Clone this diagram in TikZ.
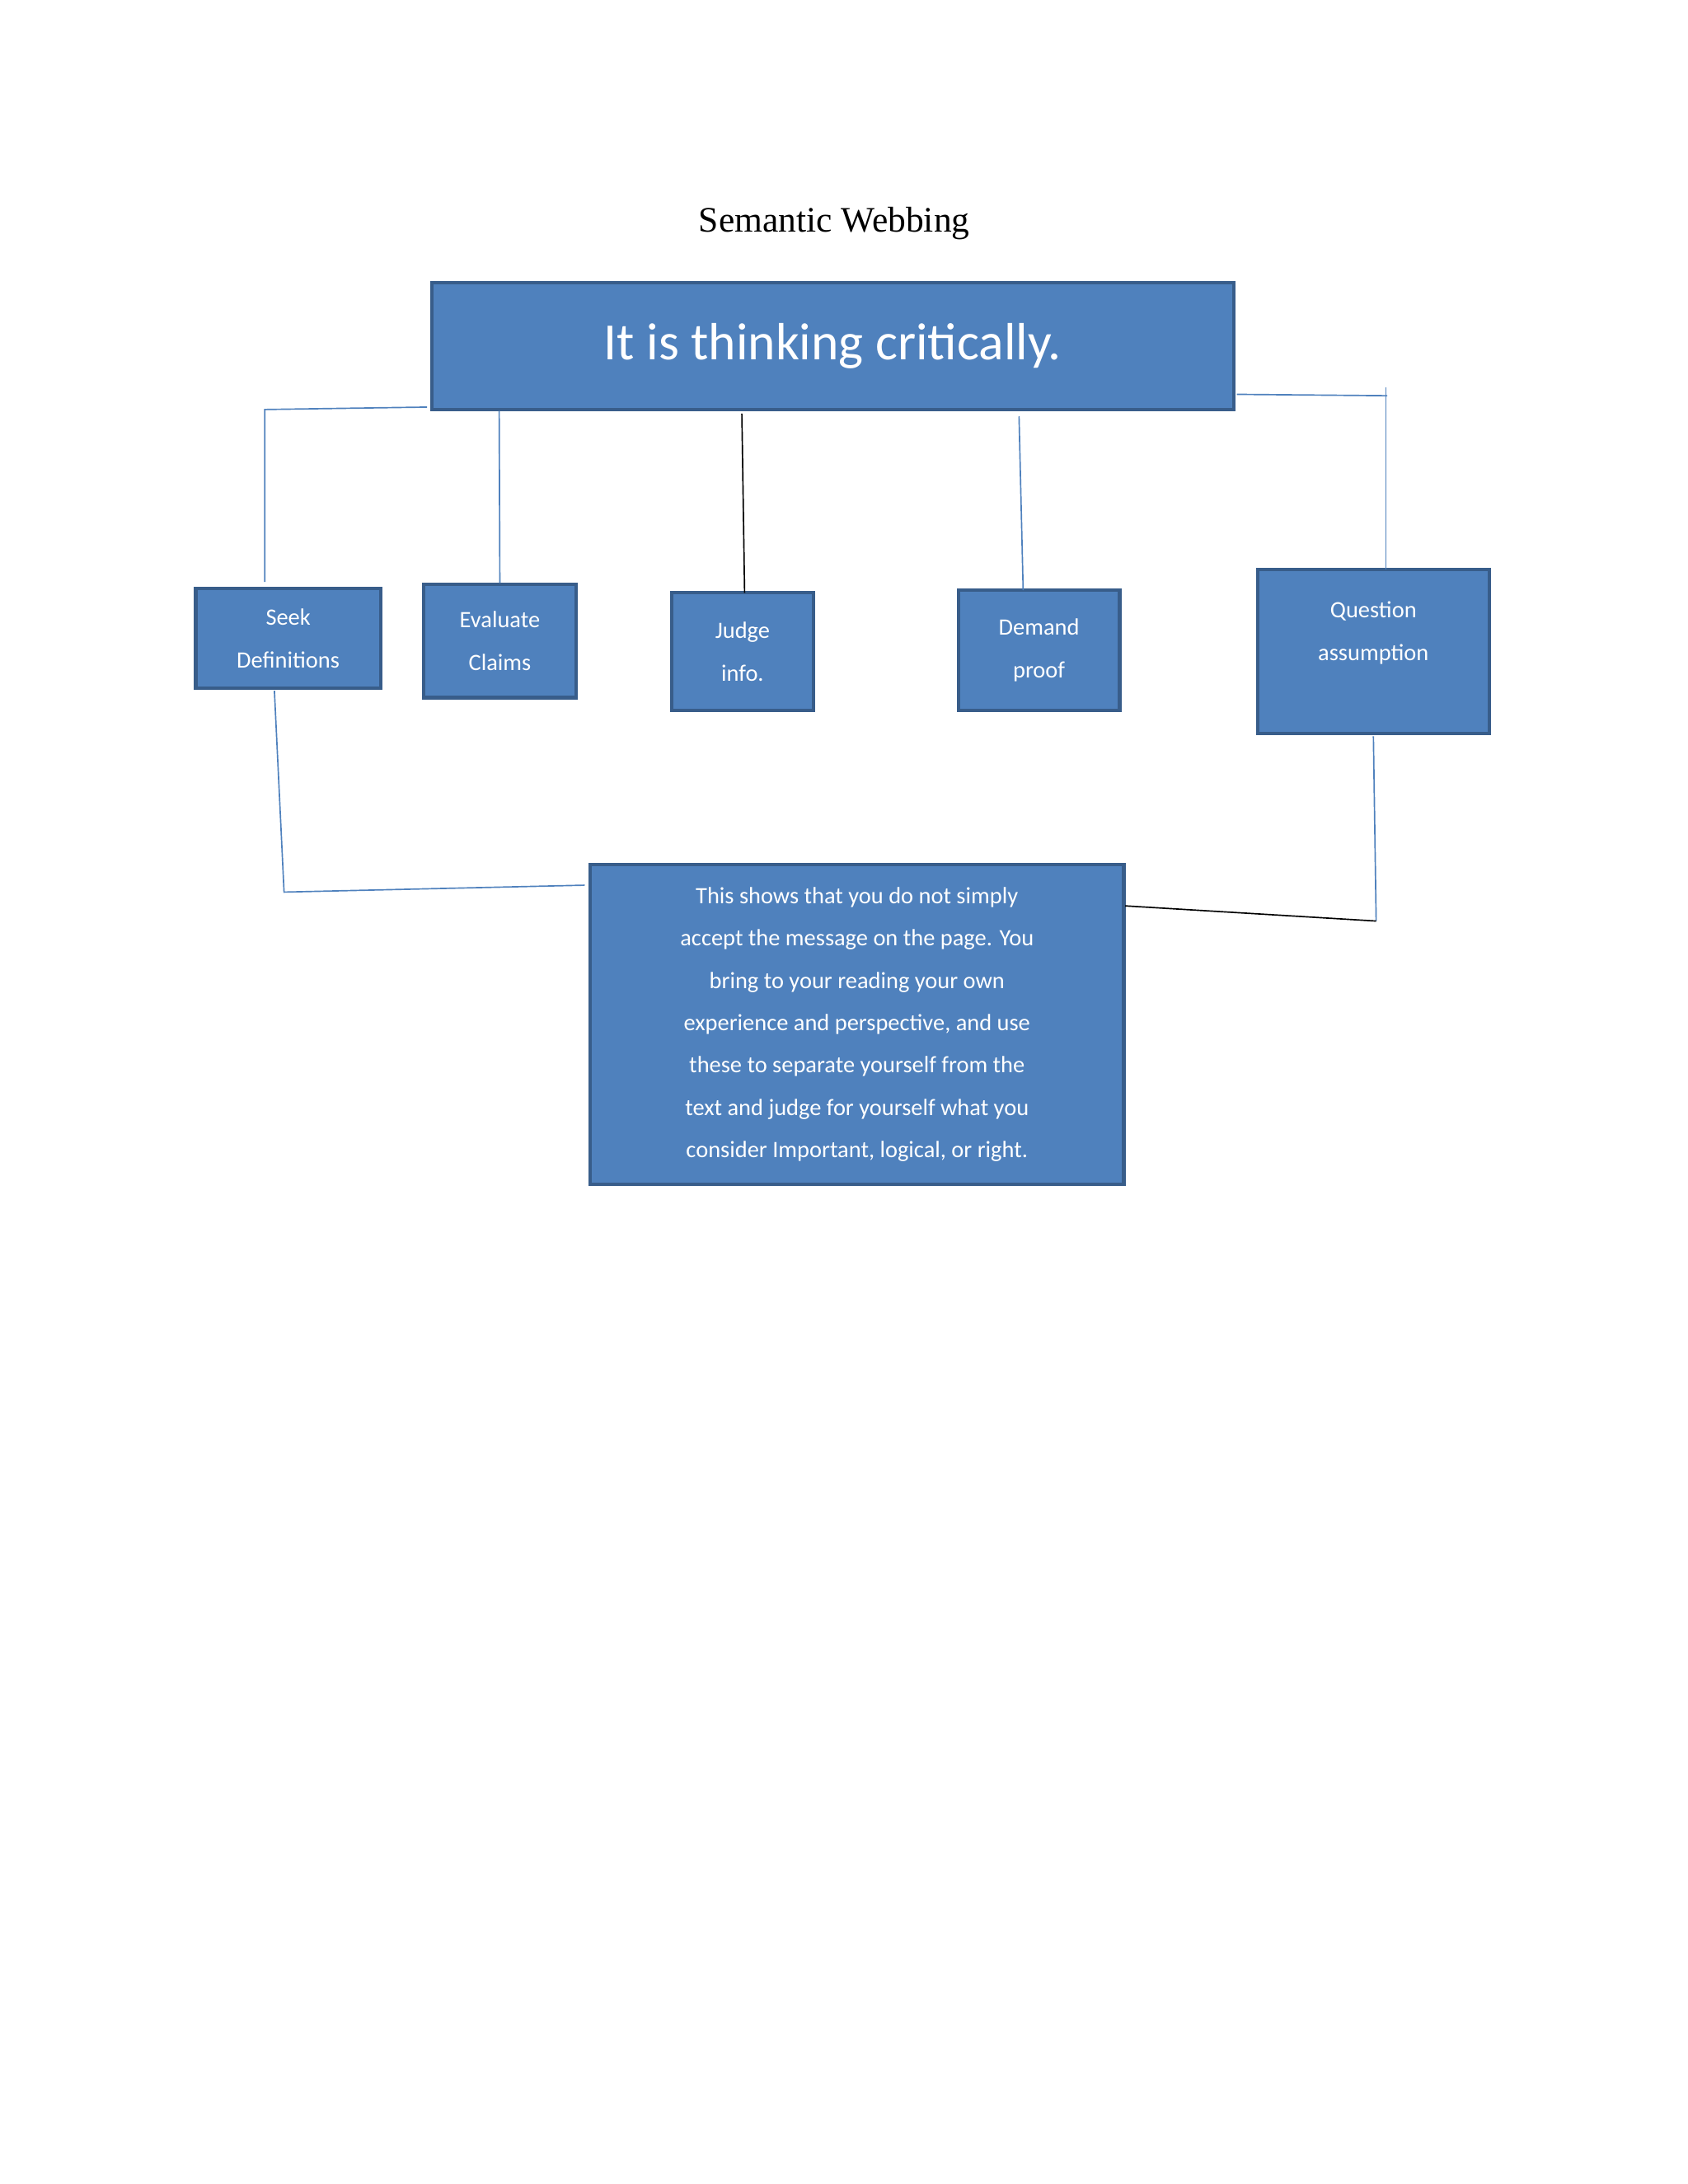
\documentclass[tikz,border=0pt]{standalone}
\usepackage{fontspec}
\setmainfont{Carlito}
\newfontfamily\titlefont{Liberation Serif}
\definecolor{boxfill}{HTML}{4F81BD}
\definecolor{boxline}{HTML}{385D8A}
\begin{document}
\begin{tikzpicture}[x=1pt,y=-1pt,
  bx/.style={draw=boxline,line width=2.5pt,fill=boxfill,text=white,inner sep=0pt,align=center},
  ln/.style={draw=boxfill,line width=1pt},
  bl/.style={draw=black,line width=1pt}]
\useasboundingbox (0,0) rectangle (1224,1584);
\fill[white] (0,0) rectangle (1224,1584);
\node[font=\titlefont\fontsize{26}{30}\selectfont] (title) at (605,162) {Semantic Webbing};
\node[bx,minimum width=582pt,minimum height=92pt,font=\fontsize{38}{44}\selectfont] (main) at (604,251) {It is thinking critically.};
\node[bx,minimum width=134pt,minimum height=72pt,font=\fontsize{17}{31}\selectfont] (seek) at (209,463) {Seek\\Definitions};
\node[bx,minimum width=111pt,minimum height=82pt,font=\fontsize{17}{31}\selectfont] (eval) at (362.5,465) {Evaluate\\Claims};
\node[bx,minimum width=103pt,minimum height=85pt,font=\fontsize{17}{31}\selectfont] (judge) at (538.5,472.5) {Judge\\info.};
\node[bx,minimum width=117pt,minimum height=87pt,font=\fontsize{17}{31}\selectfont] (demand) at (753.5,471.5) {Demand\\proof};
\node[bx,minimum width=168pt,minimum height=119pt,font=\fontsize{17}{31}\selectfont,text depth=30pt] (quest) at (996,472.5) {Question\\assumption};
\node[bx,minimum width=387pt,minimum height=232pt,font=\fontsize{17}{30.7}\selectfont] (desc) at (621.5,743) {This shows that you do not simply\\accept the message on the page. You\\bring to your reading your own\\experience and perspective, and use\\these to separate yourself from the\\text and judge for yourself what you\\consider Important, logical, or right.};
\coordinate (c1) at (192,297);
\coordinate (c2) at (206,647);
\coordinate (c3) at (998,668);
\coordinate (c4) at (1006,287);
\draw[ln] (main.south west)++(-2,-3) -- (c1) -- (192,422);
\draw[ln] (362,298) -- (eval.north);
\draw[bl] (538,300) -- (540,430);
\draw[ln] (739,302) -- (742,428);
\draw[ln] (897,286) -- (c4);
\draw[ln] (1005,281) -- (1005,413);
\draw[ln] (199,501) -- (c2) -- (424,642);
\draw[ln] (996,534) -- (c3);
\draw[bl] (816,657) -- (c3);
\end{tikzpicture}
\end{document}
